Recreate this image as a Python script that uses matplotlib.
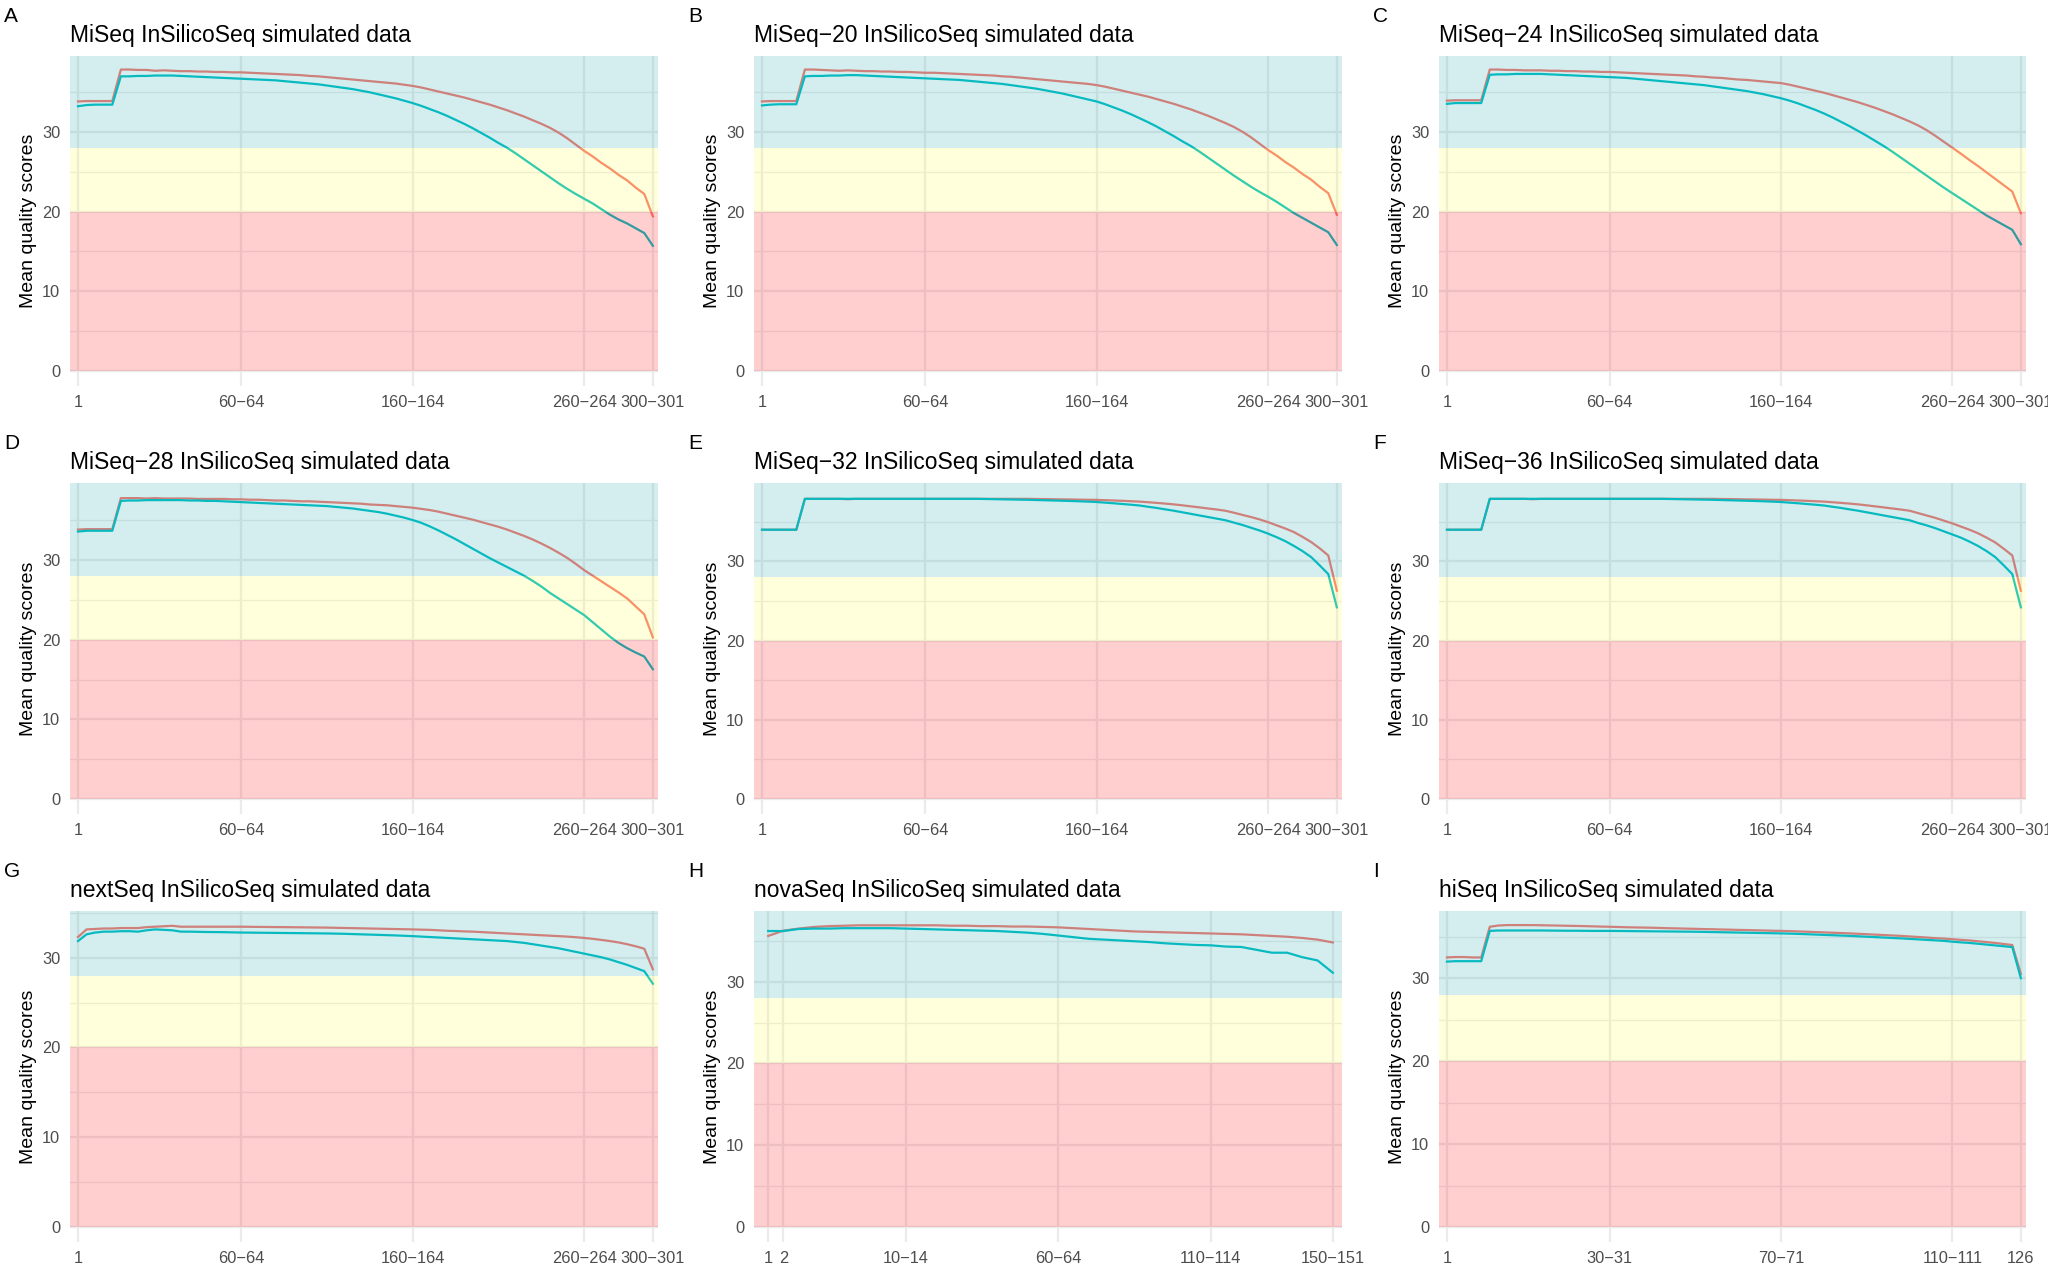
import numpy as np
import matplotlib
matplotlib.use("Agg")
import matplotlib.pyplot as plt

plt.rcParams['font.family'] = ['Liberation Sans', 'DejaVu Sans']

# ---- x categories (FastQC-style base groups) ----
pos_301 = [str(i) for i in range(1, 10)] + [f"{s}\u2212{s+4}" for s in range(10, 300, 5)] + ["300\u2212301"]
pos_151 = [str(i) for i in range(1, 10)] + [f"{s}\u2212{s+4}" for s in range(10, 150, 5)] + ["150\u2212151"]
pos_126 = [str(i) for i in range(1, 10)] + [f"{s}\u2212{s+1}" for s in range(10, 126, 2)] + ["126"]

ticks_301 = ["1", "60\u221264", "160\u2212164", "260\u2212264", "300\u2212301"]
ticks_151 = ["1", "2", "10\u221214", "60\u221264", "110\u2212114", "150\u2212151"]
ticks_126 = ["1", "30\u221231", "70\u221271", "110\u2212111", "126"]

titles = ["MiSeq InSilicoSeq simulated data", "MiSeq\u221220 InSilicoSeq simulated data",
          "MiSeq\u221224 InSilicoSeq simulated data", "MiSeq\u221228 InSilicoSeq simulated data",
          "MiSeq\u221232 InSilicoSeq simulated data", "MiSeq\u221236 InSilicoSeq simulated data",
          "nextSeq InSilicoSeq simulated data", "novaSeq InSilicoSeq simulated data",
          "hiSeq InSilicoSeq simulated data"]
letters = ["A", "B", "C", "D", "E", "F", "G", "H", "I"]

# ---- mean quality per base group: read 1 (red) / read 2 (teal) ----
A_r1 = [33.8, 33.85, 33.85, 33.85, 33.85, 37.8, 37.8, 37.75, 37.75, 37.65,
        37.7, 37.65, 37.6, 37.6, 37.55, 37.55, 37.5, 37.5, 37.45, 37.45,
        37.4, 37.35, 37.3, 37.25, 37.2, 37.15, 37.1, 37.0, 36.95, 36.85,
        36.75, 36.65, 36.55, 36.45, 36.35, 36.25, 36.15, 36.05, 35.9, 35.75,
        35.55, 35.3, 35.05, 34.8, 34.55, 34.3, 34.0, 33.7, 33.4, 33.05,
        32.7, 32.3, 31.9, 31.45, 31.0, 30.5, 29.9, 29.2, 28.4, 27.6,
        26.9, 26.1, 25.4, 24.6, 23.9, 23.0, 22.2, 19.4]
A_r2 = [33.2, 33.35, 33.4, 33.4, 33.4, 36.95, 36.95, 37.0, 37.0, 37.05,
        37.05, 37.05, 37.0, 36.95, 36.9, 36.85, 36.8, 36.75, 36.7, 36.65,
        36.6, 36.55, 36.5, 36.45, 36.35, 36.25, 36.15, 36.05, 35.95, 35.8,
        35.65, 35.5, 35.35, 35.15, 34.95, 34.7, 34.45, 34.2, 33.9, 33.6,
        33.25, 32.85, 32.45, 32.0, 31.5, 31.0, 30.45, 29.85, 29.25, 28.6,
        28.0, 27.3, 26.55, 25.8, 25.05, 24.3, 23.55, 22.85, 22.2, 21.6,
        21.0, 20.3, 19.6, 19.0, 18.5, 17.9, 17.3, 15.7]

B_r1 = [33.8, 33.85, 33.85, 33.85, 33.85, 37.8, 37.8, 37.75, 37.7, 37.65,
        37.7, 37.65, 37.6, 37.6, 37.55, 37.55, 37.5, 37.5, 37.45, 37.4,
        37.4, 37.35, 37.3, 37.25, 37.2, 37.15, 37.1, 37.05, 36.95, 36.9,
        36.8, 36.7, 36.6, 36.5, 36.4, 36.3, 36.2, 36.1, 36.0, 35.85,
        35.65, 35.4, 35.15, 34.9, 34.65, 34.4, 34.1, 33.8, 33.5, 33.15,
        32.8, 32.4, 32.0, 31.55, 31.1, 30.6, 30.0, 29.3, 28.5, 27.7,
        27.0, 26.2, 25.5, 24.7, 24.0, 23.1, 22.3, 19.6]
B_r2 = [33.3, 33.4, 33.45, 33.45, 33.45, 36.95, 37.0, 37.0, 37.05, 37.05,
        37.1, 37.1, 37.05, 37.0, 36.95, 36.9, 36.85, 36.8, 36.75, 36.7,
        36.65, 36.6, 36.55, 36.5, 36.4, 36.3, 36.2, 36.1, 36.0, 35.85,
        35.7, 35.55, 35.4, 35.2, 35.0, 34.8, 34.55, 34.3, 34.05, 33.8,
        33.45, 33.05, 32.65, 32.2, 31.7, 31.2, 30.65, 30.05, 29.45, 28.8,
        28.2, 27.5, 26.75, 26.0, 25.25, 24.5, 23.8, 23.1, 22.45, 21.85,
        21.2, 20.5, 19.8, 19.2, 18.6, 18.0, 17.4, 15.8]

C_r1 = [33.9, 33.95, 33.95, 33.95, 33.95, 37.8, 37.8, 37.75, 37.75, 37.7,
        37.7, 37.7, 37.65, 37.65, 37.6, 37.6, 37.55, 37.55, 37.5, 37.5,
        37.45, 37.4, 37.35, 37.3, 37.25, 37.2, 37.15, 37.1, 37.05, 36.95,
        36.9, 36.8, 36.75, 36.65, 36.55, 36.5, 36.4, 36.3, 36.2, 36.1,
        35.9, 35.65, 35.4, 35.15, 34.9, 34.6, 34.3, 34.0, 33.7, 33.35,
        33.0, 32.6, 32.2, 31.75, 31.3, 30.8, 30.2, 29.5, 28.75, 28.0,
        27.25, 26.45, 25.7, 24.9, 24.1, 23.3, 22.5, 19.8]
C_r2 = [33.5, 33.6, 33.6, 33.6, 33.6, 37.15, 37.2, 37.2, 37.25, 37.25,
        37.25, 37.25, 37.2, 37.15, 37.1, 37.05, 37.0, 36.95, 36.9, 36.85,
        36.8, 36.75, 36.65, 36.55, 36.45, 36.35, 36.25, 36.15, 36.05, 35.95,
        35.85, 35.7, 35.55, 35.4, 35.25, 35.1, 34.9, 34.7, 34.45, 34.2,
        33.9, 33.55, 33.15, 32.75, 32.3, 31.8, 31.25, 30.7, 30.1, 29.5,
        28.85, 28.2, 27.5, 26.75, 26.0, 25.25, 24.5, 23.75, 23.0, 22.3,
        21.6, 20.9, 20.2, 19.5, 18.9, 18.3, 17.7, 15.9]

D_r1 = [33.85, 33.9, 33.9, 33.9, 33.9, 37.8, 37.8, 37.8, 37.75, 37.8,
        37.75, 37.75, 37.75, 37.75, 37.7, 37.7, 37.7, 37.7, 37.65, 37.65,
        37.6, 37.6, 37.55, 37.5, 37.5, 37.45, 37.4, 37.4, 37.35, 37.3,
        37.25, 37.2, 37.15, 37.1, 37.0, 36.95, 36.9, 36.8, 36.7, 36.6,
        36.45, 36.3, 36.1, 35.85, 35.6, 35.35, 35.1, 34.8, 34.5, 34.2,
        33.85, 33.45, 33.05, 32.6, 32.1, 31.55, 30.95, 30.3, 29.55, 28.75,
        28.05, 27.35, 26.65, 25.95, 25.2, 24.2, 23.2, 20.3]
D_r2 = [33.6, 33.7, 33.7, 33.7, 33.7, 37.45, 37.5, 37.5, 37.55, 37.55,
        37.55, 37.55, 37.55, 37.5, 37.5, 37.45, 37.45, 37.4, 37.35, 37.3,
        37.25, 37.2, 37.15, 37.1, 37.05, 37.0, 36.95, 36.9, 36.85, 36.8,
        36.7, 36.6, 36.5, 36.35, 36.2, 36.05, 35.85, 35.6, 35.35, 35.05,
        34.7, 34.25, 33.75, 33.2, 32.65, 32.05, 31.45, 30.85, 30.25, 29.7,
        29.15, 28.6, 28.05, 27.4, 26.7, 25.9, 25.2, 24.5, 23.8, 23.1,
        22.2, 21.3, 20.4, 19.6, 18.95, 18.4, 17.9, 16.3]

E_r1 = [34.0, 34.0, 34.0, 34.0, 34.0, 37.9, 37.9, 37.9, 37.9, 37.9,
        37.85, 37.9, 37.9, 37.9, 37.9, 37.9, 37.9, 37.9, 37.9, 37.9,
        37.9, 37.9, 37.9, 37.9, 37.9, 37.9, 37.9, 37.9, 37.9, 37.9,
        37.9, 37.9, 37.88, 37.87, 37.85, 37.83, 37.82, 37.8, 37.78, 37.77,
        37.73, 37.69, 37.65, 37.6, 37.55, 37.47, 37.39, 37.3, 37.2, 37.08,
        36.95, 36.82, 36.68, 36.55, 36.4, 36.15, 35.87, 35.6, 35.3, 34.95,
        34.55, 34.15, 33.7, 33.1, 32.45, 31.65, 30.75, 26.3]
E_r2 = [34.0, 34.0, 34.0, 34.0, 34.0, 37.9, 37.9, 37.9, 37.9, 37.9,
        37.9, 37.9, 37.9, 37.9, 37.9, 37.9, 37.9, 37.9, 37.9, 37.9,
        37.9, 37.9, 37.9, 37.9, 37.9, 37.9, 37.88, 37.86, 37.84, 37.82,
        37.8, 37.78, 37.75, 37.72, 37.69, 37.66, 37.63, 37.59, 37.55, 37.5,
        37.42, 37.34, 37.25, 37.16, 37.06, 36.9, 36.75, 36.57, 36.4, 36.2,
        36.0, 35.8, 35.6, 35.4, 35.2, 34.9, 34.6, 34.25, 33.9, 33.5,
        33.05, 32.55, 31.95, 31.3, 30.55, 29.5, 28.4, 24.2]

F_r1 = [34.0, 34.0, 34.0, 34.0, 34.0, 37.9, 37.9, 37.9, 37.9, 37.9,
        37.85, 37.9, 37.9, 37.9, 37.9, 37.9, 37.9, 37.9, 37.9, 37.9,
        37.9, 37.9, 37.9, 37.9, 37.9, 37.9, 37.9, 37.9, 37.9, 37.9,
        37.9, 37.9, 37.88, 37.87, 37.85, 37.83, 37.82, 37.8, 37.78, 37.77,
        37.73, 37.69, 37.65, 37.6, 37.55, 37.47, 37.39, 37.3, 37.2, 37.08,
        36.95, 36.82, 36.68, 36.55, 36.4, 36.1, 35.8, 35.5, 35.15, 34.8,
        34.4, 34.0, 33.55, 33.0, 32.4, 31.6, 30.75, 26.3]
F_r2 = [34.0, 34.0, 34.0, 34.0, 34.0, 37.9, 37.9, 37.9, 37.9, 37.9,
        37.9, 37.9, 37.9, 37.9, 37.9, 37.9, 37.9, 37.9, 37.9, 37.9,
        37.9, 37.9, 37.9, 37.9, 37.9, 37.9, 37.88, 37.86, 37.84, 37.82,
        37.8, 37.78, 37.75, 37.72, 37.69, 37.66, 37.63, 37.59, 37.55, 37.5,
        37.42, 37.34, 37.25, 37.16, 37.06, 36.9, 36.75, 36.57, 36.4, 36.2,
        36.0, 35.8, 35.6, 35.4, 35.2, 34.85, 34.55, 34.2, 33.8, 33.4,
        33.0, 32.5, 31.95, 31.3, 30.55, 29.5, 28.4, 24.2]

G_r1 = [32.3, 33.15, 33.2, 33.25, 33.25, 33.3, 33.3, 33.3, 33.4, 33.45,
        33.5, 33.55, 33.45, 33.45, 33.45, 33.45, 33.45, 33.45, 33.45, 33.45,
        33.44, 33.43, 33.42, 33.41, 33.4, 33.39, 33.38, 33.37, 33.36, 33.35,
        33.33, 33.31, 33.29, 33.27, 33.25, 33.23, 33.21, 33.19, 33.17, 33.15,
        33.12, 33.1, 33.05, 33.0, 32.97, 32.93, 32.9, 32.85, 32.8, 32.75,
        32.7, 32.65, 32.6, 32.55, 32.5, 32.45, 32.4, 32.35, 32.28, 32.2,
        32.1, 31.98, 31.85, 31.7, 31.5, 31.27, 31.0, 28.7]
G_r2 = [31.85, 32.6, 32.8, 32.9, 32.9, 32.95, 32.95, 32.9, 33.05, 33.15,
        33.1, 33.05, 32.9, 32.9, 32.88, 32.86, 32.85, 32.84, 32.82, 32.8,
        32.79, 32.78, 32.77, 32.76, 32.75, 32.74, 32.73, 32.72, 32.71, 32.7,
        32.68, 32.66, 32.63, 32.6, 32.57, 32.54, 32.51, 32.48, 32.44, 32.4,
        32.35, 32.3, 32.25, 32.2, 32.15, 32.1, 32.05, 32.0, 31.95, 31.9,
        31.85, 31.75, 31.65, 31.5, 31.35, 31.2, 31.05, 30.85, 30.65, 30.45,
        30.25, 30.05, 29.8, 29.5, 29.2, 28.85, 28.5, 27.1]

H_r1 = [35.6, 36.25, 36.5, 36.7, 36.8, 36.85, 36.9, 36.9, 36.9, 36.9,
        36.9, 36.9, 36.85, 36.85, 36.8, 36.8, 36.75, 36.75, 36.7, 36.65,
        36.55, 36.45, 36.35, 36.25, 36.15, 36.1, 36.05, 36.0, 35.95, 35.9,
        35.85, 35.8, 35.7, 35.6, 35.5, 35.35, 35.15, 34.8]
H_r2 = [36.2, 36.2, 36.45, 36.5, 36.5, 36.55, 36.55, 36.55, 36.55, 36.5,
        36.45, 36.4, 36.35, 36.3, 36.25, 36.2, 36.1, 36.0, 35.85, 35.65,
        35.45, 35.25, 35.15, 35.05, 34.95, 34.85, 34.7, 34.6, 34.5, 34.45,
        34.3, 34.25, 33.9, 33.55, 33.55, 33.0, 32.6, 31.1]

I_r1 = [32.5, 32.55, 32.55, 32.5, 32.5, 36.2, 36.35, 36.4, 36.4, 36.4,
        36.4, 36.38, 36.36, 36.34, 36.32, 36.3, 36.28, 36.25, 36.22, 36.2,
        36.17, 36.14, 36.12, 36.1, 36.08, 36.05, 36.02, 36.0, 35.97, 35.95,
        35.92, 35.9, 35.87, 35.85, 35.82, 35.8, 35.77, 35.75, 35.72, 35.7,
        35.67, 35.64, 35.6, 35.56, 35.52, 35.48, 35.44, 35.4, 35.35, 35.3,
        35.25, 35.2, 35.15, 35.1, 35.03, 34.97, 34.9, 34.83, 34.77, 34.7,
        34.62, 34.55, 34.45, 34.35, 34.25, 34.12, 34.0, 30.5]
I_r2 = [32.0, 32.05, 32.05, 32.05, 32.05, 35.7, 35.75, 35.75, 35.75, 35.75,
        35.75, 35.75, 35.74, 35.73, 35.72, 35.72, 35.71, 35.7, 35.7, 35.7,
        35.69, 35.68, 35.67, 35.66, 35.65, 35.64, 35.63, 35.62, 35.61, 35.6,
        35.58, 35.56, 35.54, 35.52, 35.5, 35.48, 35.46, 35.44, 35.42, 35.4,
        35.37, 35.34, 35.3, 35.26, 35.22, 35.18, 35.14, 35.1, 35.05, 35.0,
        34.95, 34.9, 34.85, 34.8, 34.74, 34.68, 34.62, 34.56, 34.5, 34.4,
        34.32, 34.25, 34.15, 34.05, 33.95, 33.85, 33.75, 30.0]

panels = [(A_r1, A_r2, pos_301, ticks_301), (B_r1, B_r2, pos_301, ticks_301),
          (C_r1, C_r2, pos_301, ticks_301), (D_r1, D_r2, pos_301, ticks_301),
          (E_r1, E_r2, pos_301, ticks_301), (F_r1, F_r2, pos_301, ticks_301),
          (G_r1, G_r2, pos_301, ticks_301), (H_r1, H_r2, pos_151, ticks_151),
          (I_r1, I_r2, pos_126, ticks_126)]
y_tops = [39.5, 39.5, 39.5, 39.7, 39.9, 39.9, 35.2, 38.65, 38.1]

# ---- layout in pixels ----
W, H = 2048, 1272
col_l = [70, 754, 1439]
col_r = [658, 1342, 2026]
row_t = [56, 483, 911]
row_0 = [371, 799, 1227]   # pixel row of y = 0
below = 15

fig = plt.figure(figsize=(W / 100, H / 100), dpi=100)

for i, (r1, r2, cats, tlabs) in enumerate(panels):
    r, c = divmod(i, 3)
    bot = row_0[r] + below
    ax = fig.add_axes([col_l[c] / W, 1 - bot / H, (col_r[c] - col_l[c]) / W, (bot - row_t[r]) / H])
    ytop = y_tops[i]
    ax.set_ylim(-ytop * below / (row_0[r] - row_t[r]), ytop)
    n = len(cats)
    ax.set_xlim(-0.93, n - 0.4)

    x = np.arange(n)
    ax.plot(x, r1, color='#F8766D', lw=1.6, zorder=2)
    ax.plot(x, r2, color='#00BFC4', lw=1.6, zorder=2)

    # quality bands drawn on top, translucent
    ax.axhspan(28, ytop, color='#28AAB4', alpha=0.2, lw=0, zorder=3)
    ax.axhspan(20, 28, color='#FFFF50', alpha=0.2, lw=0, zorder=3)
    ax.axhspan(0, 20, color='#FF0F14', alpha=0.2, lw=0, zorder=3)

    ax.set_xticks([cats.index(t) for t in tlabs])
    ax.set_xticklabels(tlabs)
    ax.set_yticks([0, 10, 20, 30])
    ax.set_yticks([5, 15, 25, 35], minor=True)
    ax.set_axisbelow(True)
    ax.grid(which='major', color='#EBEBEB', lw=1.6)
    ax.grid(which='minor', axis='y', color='#EBEBEB', lw=0.9)
    for s in ax.spines.values():
        s.set_visible(False)
    ax.tick_params(axis='both', which='both', length=0, labelsize=11.8, labelcolor='#4D4D4D')
    ax.tick_params(axis='x', pad=6.5)
    ax.tick_params(axis='y', pad=7)

    ax.set_ylabel('Mean quality scores', fontsize=14)
    ax.yaxis.set_label_coords(-33 / (col_r[c] - col_l[c]), 0.5)
    ax.set_title(titles[i], loc='left', fontsize=16.5, pad=10)
    fig.text((col_l[c] - 66) / W, 1 - (row_t[r] - 34) / H, letters[i], fontsize=15, va='baseline')

fig.savefig('out.png', dpi=100)
